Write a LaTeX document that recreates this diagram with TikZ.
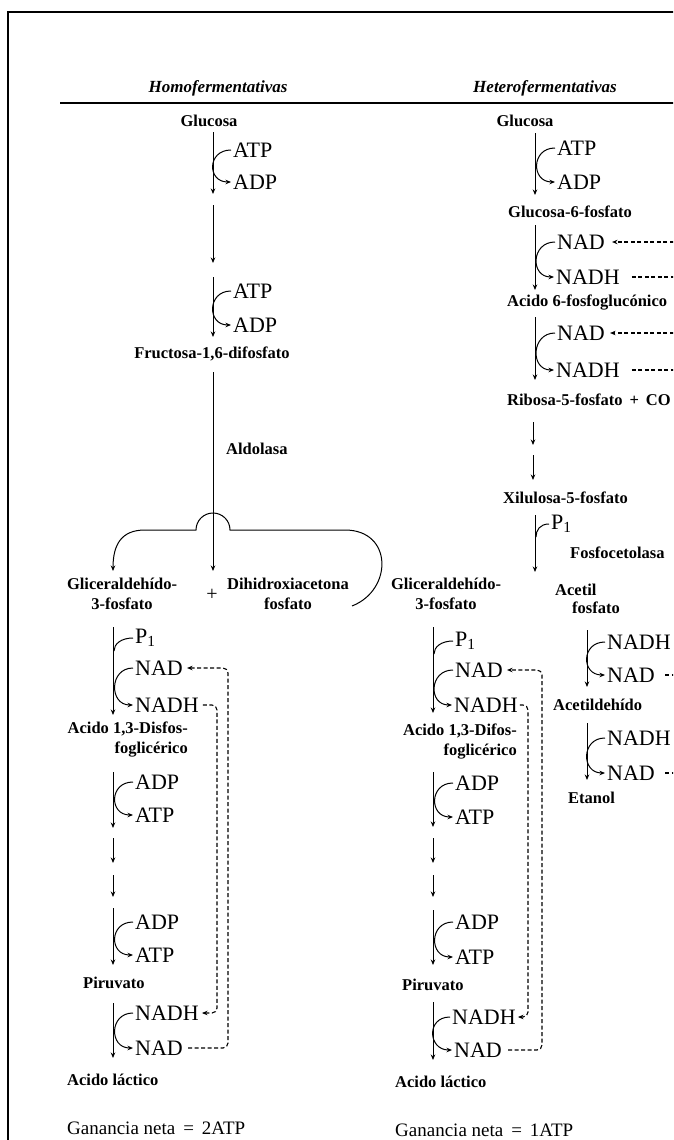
\documentclass[tikz,border=0pt]{standalone}
\usepackage{fontspec}
\setmainfont{Liberation Serif}
\usetikzlibrary{arrows.meta}
% curved side arrow from one cofactor label to the next, brushing the main arrow
\newcommand{\cofcurve}[2]{\draw[sidearr] ([xshift=-2pt]#1.west) .. controls +(-24,0) and +(-24,0) .. ([xshift=-2pt]#2.west);}
\begin{document}
\begin{tikzpicture}[x=1pt,y=-1pt,
  every node/.style={inner sep=0pt},
  met/.style={font=\bfseries\fontsize{16.5}{20}\selectfont, align=center},
  metw/.style={met, anchor=west},
  cof/.style={font=\fontsize{22}{23}\selectfont, anchor=west},
  hdr/.style={font=\bfseries\itshape\fontsize{17}{20}\selectfont},
  gain/.style={font=\fontsize{19}{20}\selectfont, anchor=west},
  tip/.style={-{Stealth[length=5.5pt,width=4.5pt]}},
  flow/.style={line width=1pt, tip},
  side/.style={line width=1pt},
  sidearr/.style={side, tip},
  recyc/.style={line width=1.1pt, dash pattern=on 4pt off 2.5pt, rounded corners=5pt},
]
\useasboundingbox (0,0) rectangle (673,1140);
\fill[white] (0,0) rectangle (673,1140);
\begin{scope}
\clip (0,0) rectangle (673,1140);

% frame and header rule
\draw[line width=1.6pt] (8,1142) -- (8,12) -- (675,12);
\node[hdr] (hhomo) at (218,88) {Homofermentativas};
\node[hdr] (hhet) at (545,88) {Heterofermentativas};
\draw[line width=1.5pt] (60,103) -- (675,103);

% ---------------- homofermentative pathway ----------------
\node[met] (gluL) at (209,121) {Glucosa};
\coordinate (a1s) at (213,132); \coordinate (a1e) at (213,194);
\draw[flow] (a1s) -- (a1e);
\node[cof] (atpA) at (233,150) {ATP};
\node[cof] (adpA) at (233,182) {ADP};
\cofcurve{atpA}{adpA}
\coordinate (a2s) at (213,205); \coordinate (a2e) at (213,263);
\draw[flow] (a2s) -- (a2e);
\coordinate (a3s) at (213,277); \coordinate (a3e) at (213,337);
\draw[flow] (a3s) -- (a3e);
\node[cof] (atpB) at (233,291) {ATP};
\node[cof] (adpB) at (233,325) {ADP};
\cofcurve{atpB}{adpB}
\node[met] (fru) at (212,354) {Fructosa-1,6-difosfato};
\node[metw] (aldo) at (226,449) {Aldolasa};

\node[met] (glyL) at (122,594) {Gliceraldeh\'{\i}do-\\3-fosfato};
\node[font=\fontsize{20}{20}\selectfont] (plusL) at (212,595) {+};
\node[met] (dhap) at (288,594) {Dihidroxiacetona\\fosfato};
\coordinate (a4s) at (213,372); \coordinate (a4e) at (213,571);
\draw[flow] (a4s) -- (a4e);
% isomerisation: DHAP back to the glyceraldehyde branch, hopping over the main line
\coordinate (dhx) at (352,606);
\coordinate (glx) at (113,571);
\draw[flow] (dhx) .. controls (393,590) and (393,530) .. (345,530) -- (230,530)
  arc[start angle=0, end angle=180, radius=17pt] -- (145,530)
  .. controls (121,530) and (113,545) .. (glx);

\coordinate (b1s) at (113,627); \coordinate (b1e) at (113,715);
\draw[flow] (b1s) -- (b1e);
\node[cof] (piA) at (135,638) {P\textsubscript{1}};
\coordinate (piAx) at (114,651);
\draw[side] ([xshift=-2pt]piA.west) .. controls +(-12,0) and +(0,-7) .. (piAx);
\node[cof] (nadA) at (135,668) {NAD};
\node[cof] (nadhA) at (135,705) {NADH};
\cofcurve{nadA}{nadhA}
\node[met, anchor=east, align=right] (dpgL) at (188,740) {Acido 1,3-Disfos-\\foglic\'erico};
\coordinate (b2s) at (113,772); \coordinate (b2e) at (113,828);
\draw[flow] (b2s) -- (b2e);
\node[cof] (adpC) at (135,782) {ADP};
\node[cof] (atpC) at (135,815) {ATP};
\cofcurve{adpC}{atpC}
\coordinate (b3s) at (113,838); \coordinate (b3e) at (113,863);
\draw[flow] (b3s) -- (b3e);
\coordinate (b4s) at (113,875); \coordinate (b4e) at (113,897);
\draw[flow] (b4s) -- (b4e);
\coordinate (b5s) at (113,908); \coordinate (b5e) at (113,965);
\draw[flow] (b5s) -- (b5e);
\node[cof] (adpD) at (135,922) {ADP};
\node[cof] (atpD) at (135,955) {ATP};
\cofcurve{adpD}{atpD}
\node[metw] (pirL) at (83,983) {Piruvato};
\coordinate (b6s) at (113,1003); \coordinate (b6e) at (113,1058);
\draw[flow] (b6s) -- (b6e);
\node[cof] (nadhB) at (135,1013) {NADH};
\node[cof] (nadB) at (135,1048) {NAD};
\cofcurve{nadhB}{nadB}
\node[metw] (lacL) at (67,1080) {Acido l\'actico};
\node[gain] (ganL) at (67,1128) {Ganancia neta \,=\, 2ATP};

% NAD / NADH recycling loops
\draw[recyc, tip] ([xshift=4pt]nadhA.east) -- (217,705) -- (217,1013) -- ([xshift=3pt]nadhB.east);
\draw[recyc, tip] ([xshift=5pt]nadB.east) -- (228,1048) -- (228,668) -- ([xshift=4pt]nadA.east);

% ---------------- heterofermentative pathway ----------------
\node[met] (gluR) at (525,121) {Glucosa};
\coordinate (c1s) at (535,133); \coordinate (c1e) at (535,195);
\draw[flow] (c1s) -- (c1e);
\node[cof] (atpE) at (557,148) {ATP};
\node[cof] (adpE) at (557,182) {ADP};
\cofcurve{atpE}{adpE}
\node[metw] (g6p) at (508,212) {Glucosa-6-fosfato};
\coordinate (c2s) at (535,225); \coordinate (c2e) at (535,290);
\draw[flow] (c2s) -- (c2e);
\node[cof] (nadE) at (557,242) {NAD};
\node[cof] (nadhE) at (556,277) {NADH};
\cofcurve{nadE}{nadhE}
\coordinate (oE1) at (680,242); \coordinate (oE2) at (680,277);
\draw[recyc, tip] (oE1) -- ([xshift=7pt]nadE.east);
\draw[recyc] ([xshift=12pt]nadhE.east) -- (oE2);
\node[metw] (p6g) at (507,303) {Acido 6-fosfogluc\'onico};
\coordinate (c3s) at (535,317); \coordinate (c3e) at (535,380);
\draw[flow] (c3s) -- (c3e);
\node[cof] (nadF) at (557,333) {NAD};
\node[cof] (nadhF) at (556,370) {NADH};
\cofcurve{nadF}{nadhF}
\coordinate (oF1) at (680,333); \coordinate (oF2) at (680,370);
\draw[recyc, tip] (oF1) -- ([xshift=5pt]nadF.east);
\draw[recyc] ([xshift=12pt]nadhF.east) -- (oF2);
\node[metw] (r5p) at (507,400) {Ribosa-5-fosfato \,+\, CO};
\coordinate (c4s) at (533,422); \coordinate (c4e) at (533,445);
\draw[flow] (c4s) -- (c4e);
\coordinate (c5s) at (533,455); \coordinate (c5e) at (533,480);
\draw[flow] (c5s) -- (c5e);
\node[metw] (x5p) at (503,498) {Xilulosa-5-fosfato};
\coordinate (c6s) at (535,515); \coordinate (c6e) at (535,572);
\draw[flow] (c6s) -- (c6e);
\node[cof] (piB) at (551,524) {P\textsubscript{1}};
\coordinate (piBx) at (536,537);
\draw[side] ([xshift=-2pt]piB.west) .. controls +(-9,0) and +(0,-7) .. (piBx);
\node[metw] (fosfo) at (570,553) {Fosfocetolasa};
\node[metw] (acp1) at (555,590) {Acetil};
\node[metw] (acp2) at (572,608) {fosfato};

% acetyl phosphate to ethanol
\coordinate (d1s) at (587,630); \coordinate (d1e) at (587,687);
\draw[flow] (d1s) -- (d1e);
\node[cof] (nadhG) at (607,642) {NADH};
\node[cof] (nadG) at (607,675) {NAD};
\cofcurve{nadhG}{nadG}
\coordinate (oG) at (680,675);
\draw[recyc] ([xshift=10pt]nadG.east) -- (oG);
\node[metw] (acald) at (553,705) {Acetildeh\'{\i}do};
\coordinate (d2s) at (587,723); \coordinate (d2e) at (587,780);
\draw[flow] (d2s) -- (d2e);
\node[cof] (nadhH) at (607,738) {NADH};
\node[cof] (nadH) at (607,773) {NAD};
\cofcurve{nadhH}{nadH}
\coordinate (oH) at (680,773);
\draw[recyc] ([xshift=10pt]nadH.east) -- (oH);
\node[metw] (etoh) at (568,798) {Etanol};

% glyceraldehyde-3-phosphate to lactate
\node[met] (glyR) at (446,594) {Gliceraldeh\'{\i}do-\\3-fosfato};
\coordinate (e1s) at (433,627); \coordinate (e1e) at (433,713);
\draw[flow] (e1s) -- (e1e);
\node[cof] (piC) at (455,641) {P\textsubscript{1}};
\coordinate (piCx) at (434,654);
\draw[side] ([xshift=-2pt]piC.west) .. controls +(-12,0) and +(0,-7) .. (piCx);
\node[cof] (nadI) at (455,670) {NAD};
\node[cof] (nadhI) at (454,705) {NADH};
\cofcurve{nadI}{nadhI}
\node[met, anchor=east, align=right] (dpgR) at (517,742) {Acido 1,3-Difos-\\foglic\'erico};
\coordinate (e2s) at (433,772); \coordinate (e2e) at (433,827);
\draw[flow] (e2s) -- (e2e);
\node[cof] (adpJ) at (455,783) {ADP};
\node[cof] (atpJ) at (455,817) {ATP};
\cofcurve{adpJ}{atpJ}
\coordinate (e3s) at (433,838); \coordinate (e3e) at (433,863);
\draw[flow] (e3s) -- (e3e);
\coordinate (e4s) at (433,875); \coordinate (e4e) at (433,897);
\draw[flow] (e4s) -- (e4e);
\coordinate (e5s) at (433,910); \coordinate (e5e) at (433,965);
\draw[flow] (e5s) -- (e5e);
\node[cof] (adpK) at (455,922) {ADP};
\node[cof] (atpK) at (455,957) {ATP};
\cofcurve{adpK}{atpK}
\node[metw] (pirR) at (402,985) {Piruvato};
\coordinate (e6s) at (433,1002); \coordinate (e6e) at (433,1060);
\draw[flow] (e6s) -- (e6e);
\node[cof] (nadhL) at (452,1017) {NADH};
\node[cof] (nadL) at (454,1050) {NAD};
\cofcurve{nadhL}{nadL}
\node[metw] (lacR) at (395,1082) {Acido l\'actico};
\node[gain] (ganR) at (395,1130) {Ganancia neta \,=\, 1ATP};

\draw[recyc, tip] ([xshift=2pt]nadhI.east) -- (528,705) -- (528,1017) -- ([xshift=2pt]nadhL.east);
\draw[recyc, tip] ([xshift=6pt]nadL.east) -- (542,1050) -- (542,670) -- ([xshift=4pt]nadI.east);
\end{scope}
\end{tikzpicture}
\end{document}
